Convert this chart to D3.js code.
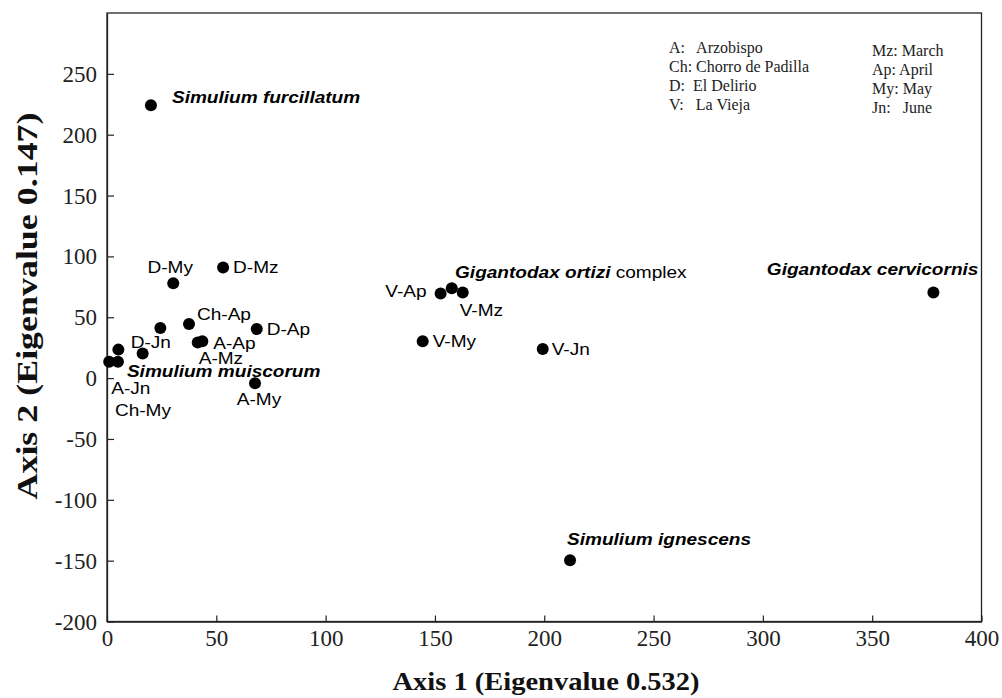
<!DOCTYPE html>
<html>
<head>
<meta charset="utf-8">
<script src="https://cdn.jsdelivr.net/npm/d3@7/dist/d3.min.js"></script>
<style>
  html, body { margin: 0; padding: 0; background: #fff; }
  svg { display: block; }
  .serif { font-family: "Liberation Serif", "DejaVu Serif", serif; }
  .sans { font-family: "Liberation Sans", Arial, sans-serif; }
</style>
</head>
<body>
<svg id="chart" width="1002" height="698"></svg>
<script>
// ---------- data ----------
const sampleNames = ["D-Mz", "D-My", "Ch-Ap", "", "D-Ap", "A-Ap", "A-Mz", "D-Jn", "", "A-Jn", "Ch-My", "A-My",
                     "V-Ap", "", "V-Mz", "V-My", "V-Jn"];
const sampleX = [53.1, 30.3, 37.5, 24.4, 68.5, 43.6, 41.5, 16.3, 5.2, 1.0, 5.0, 67.7,
                 152.6, 157.7, 162.7, 144.4, 199.3];
const sampleY = [90.8, 78.0, 44.4, 41.1, 40.3, 30.2, 29.3, 20.3, 23.4, 13.5, 13.5, -4.3,
                 69.5, 73.9, 70.3, 30.2, 23.9];

const speciesNames = ["Simulium furcillatum", "Simulium ignescens", "Gigantodax cervicornis"];
const speciesX = [20.1, 211.8, 378.0];
const speciesY = [224.2, -149.6, 70.3];

// group labels (no point of their own), placed in data units
const groupNames = ["Simulium muiscorum", "Gigantodax ortizi"];
const groupSuffix = ["", " complex"];
const groupX = [9.1, 159.2];
const groupY = [5.6, 86.7];

const xTicks = [0, 50, 100, 150, 200, 250, 300, 350, 400];
const yTicks = [-200, -150, -100, -50, 0, 50, 100, 150, 200, 250];

const legendLeft = ["A:   Arzobispo", "Ch: Chorro de Padilla", "D:  El Delirio", "V:   La Vieja"];
const legendRight = ["Mz: March", "Ap: April", "My: May", "Jn:   June"];

const xTitle = "Axis 1 (Eigenvalue 0.532)";
const yTitle = "Axis 2 (Eigenvalue 0.147)";

// ---------- label placement (pixel offsets from the point) ----------
const sampleLabelPos = {
  "D-Mz": [10, 0, "start"], "D-My": [-3, -16, "middle"], "Ch-Ap": [8, -10, "start"],
  "D-Ap": [10, 0, "start"], "A-Ap": [11, 2, "start"], "A-Mz": [1, 16, "start"],
  "D-Jn": [-12, -11, "start"], "A-Jn": [2, 27, "start"], "Ch-My": [-3, 49, "start"],
  "A-My": [4, 16, "middle"], "V-Ap": [-14, -2, "end"], "V-Mz": [-3, 18, "start"],
  "V-My": [10, 0, "start"], "V-Jn": [9, 0, "start"]
};
const speciesLabelPos = [[21, -8, "start"], [-3, -21, "start"], [45, -23, "end"]];

// ---------- layout ----------
const svg = d3.select("#chart");
const mLeft = 107, mRight = 981.5, mTop = 13, mBottom = 621.5;
const x = d3.scaleLinear().domain([0, 400]).range([mLeft, mRight]);
const y = d3.scaleLinear().domain([-200, 300]).range([mBottom, mTop]);
const axisColor = "#222";
const SX = 1.19; // horizontal stretch of sans labels
const labelSize = 16;

// frame
svg.append("rect").attr("x", mLeft).attr("y", mTop)
  .attr("width", mRight - mLeft).attr("height", mBottom - mTop)
  .attr("fill", "none").attr("stroke", axisColor).attr("stroke-width", 1.3);

// axes with inward ticks
const xAxis = d3.axisBottom(x).tickValues(xTicks).tickFormat(d => String(d))
  .tickSizeInner(-6).tickSizeOuter(0).tickPadding(8);
const gx = svg.append("g").attr("transform", `translate(0,${mBottom})`).call(xAxis);
gx.select(".domain").attr("stroke", axisColor).attr("stroke-width", 1.3);
gx.selectAll(".tick line").attr("stroke", axisColor).attr("stroke-width", 1.2);
gx.selectAll(".tick text").attr("class", "serif").attr("font-size", 23).attr("fill", "#222")
  .attr("y", 8).attr("dy", "0.71em");

const yAxis = d3.axisLeft(y).tickValues(yTicks).tickFormat(d => String(d))
  .tickSizeInner(-7).tickSizeOuter(0).tickPadding(10);
const gy = svg.append("g").attr("transform", `translate(${mLeft},0)`).call(yAxis);
gy.select(".domain").attr("stroke", axisColor).attr("stroke-width", 1.3);
gy.selectAll(".tick line").attr("stroke", axisColor).attr("stroke-width", 1.2);
gy.selectAll(".tick text").attr("class", "serif").attr("font-size", 23).attr("fill", "#222")
  .attr("x", -10).attr("dy", "0.33em");

// titles
svg.append("text").attr("class", "serif").attr("x", 546).attr("y", 690)
  .attr("text-anchor", "middle").attr("font-weight", "bold").attr("font-size", 26)
  .attr("textLength", 307).attr("lengthAdjust", "spacingAndGlyphs")
  .attr("fill", "#111").text(xTitle);
svg.append("text").attr("class", "serif")
  .attr("transform", `translate(37,306) rotate(-90)`)
  .attr("text-anchor", "middle").attr("font-weight", "bold").attr("font-size", 30)
  .attr("textLength", 387).attr("lengthAdjust", "spacingAndGlyphs")
  .attr("fill", "#111").text(yTitle);

// legend
svg.append("g").selectAll("text").data(legendLeft).join("text")
  .attr("class", "serif").attr("x", 669).attr("y", (d, i) => 53 + i * 19)
  .attr("font-size", 16).attr("fill", "#222").style("white-space", "pre").text(d => d);
svg.append("g").selectAll("text").data(legendRight).join("text")
  .attr("class", "serif").attr("x", 872).attr("y", (d, i) => 56 + i * 19)
  .attr("font-size", 16).attr("fill", "#222").style("white-space", "pre").text(d => d);

// helper for stretched sans labels
function label(px, py, anchor, parts) {
  const t = svg.append("text").attr("class", "sans")
    .attr("transform", `translate(${px},${py}) scale(${SX},1)`)
    .attr("text-anchor", anchor).attr("dy", "0.36em")
    .attr("font-size", labelSize).attr("fill", "#000");
  parts.forEach(p => {
    t.append("tspan").attr("font-weight", p.bold ? "bold" : "normal")
      .attr("font-style", p.italic ? "italic" : "normal").text(p.text);
  });
}

// sample points
const samples = sampleNames.map((n, i) => ({ n, x: sampleX[i], y: sampleY[i] }));
svg.append("g").selectAll("circle").data(samples).join("circle")
  .attr("cx", d => x(d.x)).attr("cy", d => y(d.y)).attr("r", 6).attr("fill", "#000");
samples.forEach(d => {
  if (!d.n) return;
  const p = sampleLabelPos[d.n];
  label(x(d.x) + p[0], y(d.y) + p[1], p[2], [{ text: d.n }]);
});

// species points
const species = speciesNames.map((n, i) => ({ n, x: speciesX[i], y: speciesY[i] }));
svg.append("g").selectAll("circle").data(species).join("circle")
  .attr("cx", d => x(d.x)).attr("cy", d => y(d.y)).attr("r", 6).attr("fill", "#000");
species.forEach((d, i) => {
  const p = speciesLabelPos[i];
  label(x(d.x) + p[0], y(d.y) + p[1], p[2], [{ text: d.n, bold: true, italic: true }]);
});

// group labels
groupNames.forEach((n, i) => {
  const parts = [{ text: n, bold: true, italic: true }];
  if (groupSuffix[i]) parts.push({ text: groupSuffix[i] });
  label(x(groupX[i]), y(groupY[i]), "start", parts);
});
</script>
</body>
</html>
